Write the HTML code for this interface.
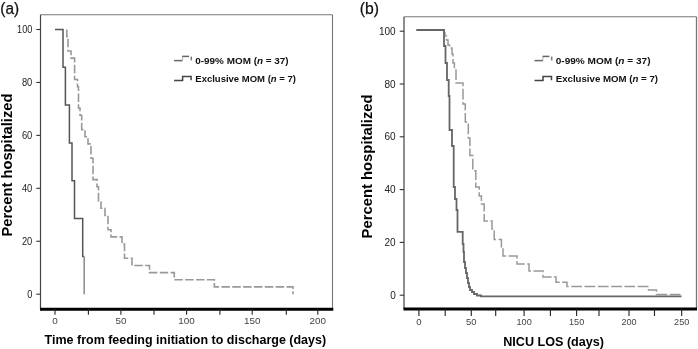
<!DOCTYPE html>
<html><head><meta charset="utf-8"><style>
html,body{margin:0;padding:0;background:#fff;}
svg{display:block;font-family:"Liberation Sans", sans-serif;filter:grayscale(1);}
</style></head><body>
<svg width="698" height="349" viewBox="0 0 698 349">
<rect width="698" height="349" fill="#fff"/>
<line x1="40.5" y1="14.8" x2="332.5" y2="14.8" stroke="#777" stroke-width="1.1"/>
<line x1="332.5" y1="14.8" x2="332.5" y2="309.1" stroke="#777" stroke-width="1.1"/>
<line x1="40.5" y1="14.8" x2="40.5" y2="309.1" stroke="#444" stroke-width="1.2"/>
<line x1="40.0" y1="309.3" x2="333.3" y2="309.3" stroke="#000" stroke-width="2.9"/>
<line x1="55.0" y1="309.1" x2="55.0" y2="314.8" stroke="#222" stroke-width="1.1"/>
<line x1="88.4" y1="309.1" x2="88.4" y2="314.8" stroke="#222" stroke-width="1.1"/>
<line x1="120.9" y1="309.1" x2="120.9" y2="314.8" stroke="#222" stroke-width="1.1"/>
<line x1="154.0" y1="309.1" x2="154.0" y2="314.8" stroke="#222" stroke-width="1.1"/>
<line x1="186.6" y1="309.1" x2="186.6" y2="314.8" stroke="#222" stroke-width="1.1"/>
<line x1="219.9" y1="309.1" x2="219.9" y2="314.8" stroke="#222" stroke-width="1.1"/>
<line x1="252.2" y1="309.1" x2="252.2" y2="314.8" stroke="#222" stroke-width="1.1"/>
<line x1="286.3" y1="309.1" x2="286.3" y2="314.8" stroke="#222" stroke-width="1.1"/>
<line x1="317.8" y1="309.1" x2="317.8" y2="314.8" stroke="#222" stroke-width="1.1"/>
<text x="55.0" y="324.1" font-size="9.9" text-anchor="middle" font-weight="normal" fill="#444">0</text>
<text x="120.9" y="324.1" font-size="9.9" text-anchor="middle" font-weight="normal" fill="#444">50</text>
<text x="186.6" y="324.1" font-size="9.9" text-anchor="middle" font-weight="normal" fill="#444">100</text>
<text x="252.2" y="324.1" font-size="9.9" text-anchor="middle" font-weight="normal" fill="#444">150</text>
<text x="317.8" y="324.1" font-size="9.9" text-anchor="middle" font-weight="normal" fill="#444">200</text>
<line x1="36.3" y1="29.5" x2="40.5" y2="29.5" stroke="#333" stroke-width="1.1"/>
<text x="32.3" y="32.9" font-size="10.3" text-anchor="end" font-weight="normal" fill="#222" textLength="15.2" lengthAdjust="spacingAndGlyphs">100</text>
<line x1="36.3" y1="82.44" x2="40.5" y2="82.44" stroke="#333" stroke-width="1.1"/>
<text x="32.3" y="85.84" font-size="10.3" text-anchor="end" font-weight="normal" fill="#222" textLength="10.4" lengthAdjust="spacingAndGlyphs">80</text>
<line x1="36.3" y1="135.38" x2="40.5" y2="135.38" stroke="#333" stroke-width="1.1"/>
<text x="32.3" y="138.78" font-size="10.3" text-anchor="end" font-weight="normal" fill="#222" textLength="10.4" lengthAdjust="spacingAndGlyphs">60</text>
<line x1="36.3" y1="188.32" x2="40.5" y2="188.32" stroke="#333" stroke-width="1.1"/>
<text x="32.3" y="191.72" font-size="10.3" text-anchor="end" font-weight="normal" fill="#222" textLength="10.4" lengthAdjust="spacingAndGlyphs">40</text>
<line x1="36.3" y1="241.26" x2="40.5" y2="241.26" stroke="#333" stroke-width="1.1"/>
<text x="32.3" y="244.66" font-size="10.3" text-anchor="end" font-weight="normal" fill="#222" textLength="10.4" lengthAdjust="spacingAndGlyphs">20</text>
<line x1="36.3" y1="294.2" x2="40.5" y2="294.2" stroke="#333" stroke-width="1.1"/>
<text x="32.3" y="297.59999999999997" font-size="10.3" text-anchor="end" font-weight="normal" fill="#222" textLength="5.1" lengthAdjust="spacingAndGlyphs">0</text>
<text x="0.3" y="13.9" font-size="16" text-anchor="start" font-weight="normal" fill="#111" textLength="18.8" lengthAdjust="spacingAndGlyphs" stroke="#111" stroke-width="0.25">(a)</text>
<text transform="translate(11.6,236.6) rotate(-90)" font-size="14" font-weight="bold" fill="#000" textLength="143" lengthAdjust="spacingAndGlyphs">Percent hospitalized</text>
<text x="44.6" y="344.2" font-size="12.6" text-anchor="start" font-weight="bold" fill="#000" textLength="281.5" lengthAdjust="spacingAndGlyphs">Time from feeding initiation to discharge (days)</text>
<path d="M66.8,29.5 V36.65 H68 V50.95 H71 V58.1 H74.6 V79.55 H77.5 V86.7 H78.5 V108.15 H80 V115.3 H81.7 V129.6 H85 V136.75 H88 V143.9 H91 V158.2 H93 V179.65 H97 V186.8 H98.5 V201.1 H101 V208.25 H105 V215.4 H108 V229.7 H111 V236.85 H122 V244 H124.5 V258.3 H132 V265.45 H149.5 V272.6 H174.3 V279.75 H214.4 V286.9 H293 V294.2" fill="none" stroke="#999" stroke-width="1.6" stroke-dasharray="8.5 2.35" stroke-dashoffset="0.3"/>
<path d="M55.0,29.5 H63 V67.3 H65.4 V105.1 H69.4 V142.9 H72 V180.8 H74.5 V218.6 H82.7 V256.4 H84.2" fill="none" stroke="#555" stroke-width="1.5"/>
<line x1="84.2" y1="256.4" x2="84.2" y2="294.2" stroke="#8a8a8a" stroke-width="1.5"/>
<line x1="174.1" y1="60.6" x2="182.5" y2="60.6" stroke="#666" stroke-width="1.5"/>
<line x1="182.5" y1="60.6" x2="182.5" y2="56.5" stroke="#bbb" stroke-width="1.2"/>
<line x1="182.2" y1="56.4" x2="189" y2="56.4" stroke="#666" stroke-width="1.5"/>
<line x1="191.3" y1="56.6" x2="191.3" y2="60.4" stroke="#777" stroke-width="1.5"/>
<path d="M174.1,80.5 H182.6 V76.5 H191.1 V80.2" fill="none" stroke="#444" stroke-width="1.5"/>
<text x="195.3" y="63.8" font-size="9.5" font-weight="bold" fill="#111" textLength="93.3" lengthAdjust="spacingAndGlyphs">0-99% MOM (<tspan font-style="italic">n</tspan> = 37)</text>
<text x="195.3" y="81.7" font-size="9.5" font-weight="bold" fill="#111" textLength="100.6" lengthAdjust="spacingAndGlyphs">Exclusive MOM (<tspan font-style="italic">n</tspan> = 7)</text>
<line x1="404.0" y1="16.7" x2="696.5" y2="16.7" stroke="#777" stroke-width="1.1"/>
<line x1="696.5" y1="16.7" x2="696.5" y2="309.1" stroke="#777" stroke-width="1.3"/>
<line x1="404.0" y1="16.7" x2="404.0" y2="309.1" stroke="#808080" stroke-width="1.8"/>
<line x1="403.5" y1="309.1" x2="697.0" y2="309.1" stroke="#000" stroke-width="3"/>
<line x1="418.9" y1="309.1" x2="418.9" y2="316" stroke="#222" stroke-width="1.1"/>
<line x1="445.2" y1="309.1" x2="445.2" y2="316" stroke="#222" stroke-width="1.1"/>
<line x1="471.3" y1="309.1" x2="471.3" y2="316" stroke="#222" stroke-width="1.1"/>
<line x1="495.7" y1="309.1" x2="495.7" y2="316" stroke="#222" stroke-width="1.1"/>
<line x1="524.1" y1="309.1" x2="524.1" y2="316" stroke="#222" stroke-width="1.1"/>
<line x1="550.4" y1="309.1" x2="550.4" y2="316" stroke="#222" stroke-width="1.1"/>
<line x1="576.6" y1="309.1" x2="576.6" y2="316" stroke="#222" stroke-width="1.1"/>
<line x1="599.0" y1="309.1" x2="599.0" y2="316" stroke="#222" stroke-width="1.1"/>
<line x1="629.0" y1="309.1" x2="629.0" y2="316" stroke="#222" stroke-width="1.1"/>
<line x1="654.5" y1="309.1" x2="654.5" y2="316" stroke="#222" stroke-width="1.1"/>
<line x1="681.7" y1="309.1" x2="681.7" y2="316" stroke="#222" stroke-width="1.1"/>
<text x="418.9" y="324.7" font-size="9.9" text-anchor="middle" font-weight="normal" fill="#444" textLength="5.3" lengthAdjust="spacingAndGlyphs">0</text>
<text x="471.3" y="324.7" font-size="9.9" text-anchor="middle" font-weight="normal" fill="#444" textLength="10.5" lengthAdjust="spacingAndGlyphs">50</text>
<text x="524.1" y="324.7" font-size="9.9" text-anchor="middle" font-weight="normal" fill="#444" textLength="15.2" lengthAdjust="spacingAndGlyphs">100</text>
<text x="576.6" y="324.7" font-size="9.9" text-anchor="middle" font-weight="normal" fill="#444" textLength="15.2" lengthAdjust="spacingAndGlyphs">150</text>
<text x="629.0" y="324.7" font-size="9.9" text-anchor="middle" font-weight="normal" fill="#444" textLength="15.2" lengthAdjust="spacingAndGlyphs">200</text>
<text x="681.7" y="324.7" font-size="9.9" text-anchor="middle" font-weight="normal" fill="#444" textLength="15.2" lengthAdjust="spacingAndGlyphs">250</text>
<line x1="399.7" y1="31.2" x2="404.0" y2="31.2" stroke="#333" stroke-width="1.1"/>
<text x="395.7" y="34.8" font-size="10" text-anchor="end" font-weight="normal" fill="#222">100</text>
<line x1="399.7" y1="84.0" x2="404.0" y2="84.0" stroke="#333" stroke-width="1.1"/>
<text x="395.7" y="87.6" font-size="10" text-anchor="end" font-weight="normal" fill="#222">80</text>
<line x1="399.7" y1="136.8" x2="404.0" y2="136.8" stroke="#333" stroke-width="1.1"/>
<text x="395.7" y="140.4" font-size="10" text-anchor="end" font-weight="normal" fill="#222">60</text>
<line x1="399.7" y1="189.6" x2="404.0" y2="189.6" stroke="#333" stroke-width="1.1"/>
<text x="395.7" y="193.2" font-size="10" text-anchor="end" font-weight="normal" fill="#222">40</text>
<line x1="399.7" y1="242.4" x2="404.0" y2="242.4" stroke="#333" stroke-width="1.1"/>
<text x="395.7" y="246.0" font-size="10" text-anchor="end" font-weight="normal" fill="#222">20</text>
<line x1="399.7" y1="295.2" x2="404.0" y2="295.2" stroke="#333" stroke-width="1.1"/>
<text x="395.7" y="298.8" font-size="10" text-anchor="end" font-weight="normal" fill="#222">0</text>
<text x="359.8" y="13.9" font-size="16" text-anchor="start" font-weight="normal" fill="#111" textLength="19.2" lengthAdjust="spacingAndGlyphs" stroke="#111" stroke-width="0.25">(b)</text>
<text transform="translate(372.2,238.4) rotate(-90)" font-size="14" font-weight="bold" fill="#000" textLength="144" lengthAdjust="spacingAndGlyphs">Percent hospitalized</text>
<text x="503.2" y="346.2" font-size="12.6" text-anchor="start" font-weight="bold" fill="#000" textLength="100.8" lengthAdjust="spacingAndGlyphs">NICU LOS (days)</text>
<path d="M444,30 V33 H445 V36 H446.5 V40 H448 V45 H449.5 V48 H452 V54 H453 V63 H454.4 V70 H456 V83 H463 V104 H465.3 V122 H468.3 V138 H469.9 V155.5 H472.8 V170.8 H475.8 V187 H479.2 V196 H481.4 V204 H484.2 V221 H492 V229 H494.2 V239.4 H501.4 V248 H503 V256 H517 V264 H529 V271 H543 V277 H556 V282.2 H567 V286.5 H648.5 V290 H656.5 V294.4 H681" fill="none" stroke="#999" stroke-width="1.5" stroke-dasharray="10.8 2.5" stroke-dashoffset="2.0"/>
<path d="M416.3,30 H444 V46 H445.5 V63 H447 V80 H448.7 V96 H449.5 V130 H452 V146 H453.7 V187 H455 V199 H456.5 V210 H457.5 V231.8 H462.7 V244 H463.5 V252 H464 V262 H465 V268 H466 V273 H467 V278 H468 V283 H469 V287 H470 V290 H472 V292 H474 V294 H477 V295.5 H481 V296.3 H681.5" fill="none" stroke="#666" stroke-width="1.8"/>
<line x1="534.5" y1="60.6" x2="542.9" y2="60.6" stroke="#666" stroke-width="1.5"/>
<line x1="542.9" y1="60.6" x2="542.9" y2="56.5" stroke="#bbb" stroke-width="1.2"/>
<line x1="542.5999999999999" y1="56.4" x2="549.4" y2="56.4" stroke="#666" stroke-width="1.5"/>
<line x1="551.7" y1="56.6" x2="551.7" y2="60.4" stroke="#777" stroke-width="1.5"/>
<path d="M534.5,80.5 H543.0 V76.5 H551.5 V80.2" fill="none" stroke="#444" stroke-width="1.5"/>
<text x="555.7" y="63.8" font-size="9.5" font-weight="bold" fill="#111" textLength="94.8" lengthAdjust="spacingAndGlyphs">0-99% MOM (<tspan font-style="italic">n</tspan> = 37)</text>
<text x="555.7" y="81.7" font-size="9.5" font-weight="bold" fill="#111" textLength="102.3" lengthAdjust="spacingAndGlyphs">Exclusive MOM (<tspan font-style="italic">n</tspan> = 7)</text>
</svg>
</body></html>
